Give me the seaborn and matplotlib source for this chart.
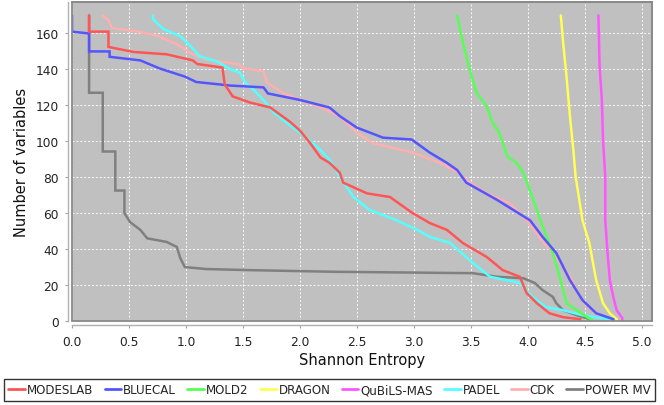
import numpy as np
import pandas as pd
import matplotlib
matplotlib.use("Agg")
import matplotlib.pyplot as plt
from matplotlib.patches import Rectangle
import seaborn as sns

# ---- data ----
series_names = ["MODESLAB", "BLUECAL", "MOLD2", "DRAGON", "QuBiLS-MAS", "PADEL", "CDK", "POWER MV"]
series_colors = ["#ff5555", "#5555ff", "#55ff55", "#ffff55", "#ff55ff", "#55ffff", "#ffafaf", "#808080"]

modeslab_x = [0.15, 0.15, 0.32, 0.32, 0.54, 0.83, 1.06, 1.10, 1.32, 1.34, 1.41, 1.56, 1.74, 1.91, 2.00, 2.09, 2.18, 2.26, 2.35, 2.38, 2.59, 2.79, 2.99, 3.14, 3.29, 3.43, 3.64, 3.78, 3.93, 3.99, 4.08, 4.19, 4.31, 4.46, 4.46]
modeslab_y = [170, 161, 161, 152.5, 149.7, 148.4, 145, 143, 141, 131.7, 125, 121.6, 118.8, 111, 106, 99, 91, 88, 82.5, 77, 71, 69, 60, 54.5, 50.7, 43.4, 35.6, 28.3, 24.6, 15.5, 9.9, 4.3, 2.1, 1, 0]

bluecal_x = [0.0, 0.0, 0.15, 0.15, 0.33, 0.33, 0.60, 0.77, 0.99, 1.09, 1.39, 1.68, 1.72, 2.00, 2.26, 2.35, 2.50, 2.73, 2.98, 3.14, 3.29, 3.38, 3.46, 3.73, 4.02, 4.13, 4.25, 4.37, 4.48, 4.60, 4.75, 4.75]
bluecal_y = [170, 161, 160, 150, 150, 147, 145, 140.5, 136, 133, 131, 130, 126.6, 123, 118.8, 114, 107.6, 102, 101, 93.7, 88, 84, 77, 67.4, 56, 46.8, 37.8, 22.7, 11.6, 4.3, 1, 0]

mold2_x = [3.38, 3.43, 3.49, 3.55, 3.64, 3.69, 3.75, 3.82, 3.90, 3.96, 4.04, 4.13, 4.22, 4.28, 4.34, 4.43, 4.52, 4.57, 4.57]
mold2_y = [170, 155, 140, 127, 119.4, 110.4, 104.8, 91.6, 88, 82.5, 69, 52.5, 37.8, 24.6, 9.9, 6, 2.1, 0.5, 0]

dragon_x = [4.29, 4.31, 4.34, 4.37, 4.40, 4.42, 4.48, 4.54, 4.60, 4.66, 4.72, 4.78, 4.78]
dragon_y = [170, 155, 136, 113.8, 95, 80.3, 56, 43.4, 22.7, 9.9, 4.3, 1, 0]

qubils_x = [4.62, 4.63, 4.65, 4.66, 4.68, 4.68, 4.70, 4.72, 4.75, 4.78, 4.83, 4.83]
qubils_y = [170, 141.7, 123, 101, 80, 56, 37.8, 22.7, 13.4, 6, 1.5, 0]

padel_x = [0.71, 0.71, 0.80, 0.95, 1.04, 1.12, 1.27, 1.39, 1.47, 1.52, 1.59, 1.68, 1.77, 1.85, 2.00, 2.15, 2.26, 2.35, 2.47, 2.61, 2.85, 3.03, 3.14, 3.32, 3.52, 3.67, 3.93, 4.04, 4.16, 4.31, 4.48, 4.72, 4.72]
padel_y = [170, 168, 162.5, 158.5, 153, 147.3, 144.5, 140, 138.4, 132.7, 128.9, 123, 116, 112, 104.8, 97, 89.8, 80.3, 69, 61.8, 56, 50.7, 46.8, 43.4, 32.2, 24.6, 21.2, 13.4, 7.7, 6, 3.2, 1, 0]

cdk_x = [0.27, 0.32, 0.35, 0.54, 0.74, 0.92, 1.06, 1.18, 1.36, 1.47, 1.50, 1.68, 1.71, 1.85, 2.00, 2.17, 2.35, 2.50, 2.64, 2.99, 3.23, 3.38, 3.49, 3.64, 3.84, 3.99, 4.10, 4.25, 4.37, 4.48, 4.60, 4.70, 4.70]
cdk_y = [170, 167.4, 163, 161.5, 159, 154, 148.4, 145.6, 143.8, 142.8, 140.6, 139, 132.7, 127, 123, 119.4, 113.8, 104.8, 99, 93.7, 88, 83, 77, 71, 65.6, 56, 46.8, 35.6, 24.6, 11, 4, 1, 0]

powermv_x = [0.15, 0.15, 0.27, 0.27, 0.38, 0.38, 0.46, 0.46, 0.51, 0.60, 0.66, 0.83, 0.92, 0.95, 0.99, 1.18, 1.56, 2.29, 3.52, 3.73, 3.96, 4.06, 4.13, 4.22, 4.25, 4.31, 4.43, 4.55, 4.55]
powermv_y = [170, 127, 127, 94.3, 94.3, 72.6, 72.6, 60, 55, 50.7, 46, 44, 41.2, 35, 30, 28.9, 28.3, 27.4, 26.6, 24.6, 23.8, 21.2, 17.2, 13.4, 9.9, 6, 3.2, 1, 0]

xs = [modeslab_x, bluecal_x, mold2_x, dragon_x, qubils_x, padel_x, cdk_x, powermv_x]
ys = [modeslab_y, bluecal_y, mold2_y, dragon_y, qubils_y, padel_y, cdk_y, powermv_y]

x_ticks = [0.0, 0.5, 1.0, 1.5, 2.0, 2.5, 3.0, 3.5, 4.0, 4.5, 5.0]
y_ticks = [0, 20, 40, 60, 80, 100, 120, 140, 160]

frames = []
for name, x, y in zip(series_names, xs, ys):
    frames.append(pd.DataFrame({"Shannon Entropy": x, "Number of variables": y, "Descriptor": name}))
df = pd.concat(frames, ignore_index=True)

# ---- plotting ----
sns.set_style("ticks")
plt.rcParams["font.family"] = ["DejaVu Sans"]

fig = plt.figure(figsize=(6.64, 4.06), dpi=100)
ax = fig.add_axes([72 / 664, (406 - 322) / 406, 580 / 664, 319 / 406])
ax.set_facecolor("#c0c0c0")

palette = dict(zip(series_names, series_colors))
sns.lineplot(data=df, x="Shannon Entropy", y="Number of variables", hue="Descriptor",
             hue_order=series_names, palette=palette, sort=False, estimator=None,
             linewidth=1.8, ax=ax, legend=False)

# first series drawn on top (JFreeChart reverse rendering order)
for i, line in enumerate(ax.lines):
    line.set_zorder(10 - i)
    line.set_solid_joinstyle("miter")

ax.set_xlim(0, 5.09)
ax.set_ylim(0, 177.5)
ax.set_xticks(x_ticks)
ax.set_xticklabels([f"{t:.1f}" for t in x_ticks])
ax.set_yticks(y_ticks)
ax.set_yticklabels([str(t) for t in y_ticks])
ax.grid(True, color="white", linestyle=(0, (2, 2)), linewidth=0.7, alpha=0.9)
ax.set_axisbelow(True)

# axis lines offset from the plot area, plot outline in gray
for side in ["left", "bottom"]:
    ax.spines[side].set_position(("outward", 3))
    ax.spines[side].set_color("#b0b0b0")
    ax.spines[side].set_linewidth(1.0)
for side in ["top", "right"]:
    ax.spines[side].set_color("#8a8a8a")
    ax.spines[side].set_linewidth(1.3)
ax.add_patch(Rectangle((0, 0), 1, 1, transform=ax.transAxes, fill=False,
                       edgecolor="#8a8a8a", linewidth=1.3, zorder=20, clip_on=False))

ax.tick_params(axis="both", colors="#a0a0a0", labelcolor="#222222", labelsize=8.8,
               length=2.5, width=0.8)
ax.tick_params(axis="x", pad=4.5)
ax.tick_params(axis="y", pad=4)

ax.set_xlabel("Shannon Entropy", fontsize=10.5, labelpad=3, color="#111111")
ax.set_ylabel("Number of variables", fontsize=10.5, labelpad=5, color="#111111")

handles = [plt.Line2D([0], [0], color=c, linewidth=2) for c in series_colors]
leg = fig.legend(handles, series_names, loc="center", bbox_to_anchor=(329.5 / 664, 1 - 391 / 406),
                 ncol=8, frameon=True, fancybox=False, fontsize=8.6, handlelength=1.4,
                 handletextpad=0.15, columnspacing=0.95, borderpad=0.35, borderaxespad=0)
leg.get_frame().set_edgecolor("#000000")
leg.get_frame().set_linewidth(1.0)

fig.savefig("out.png", dpi=100)
